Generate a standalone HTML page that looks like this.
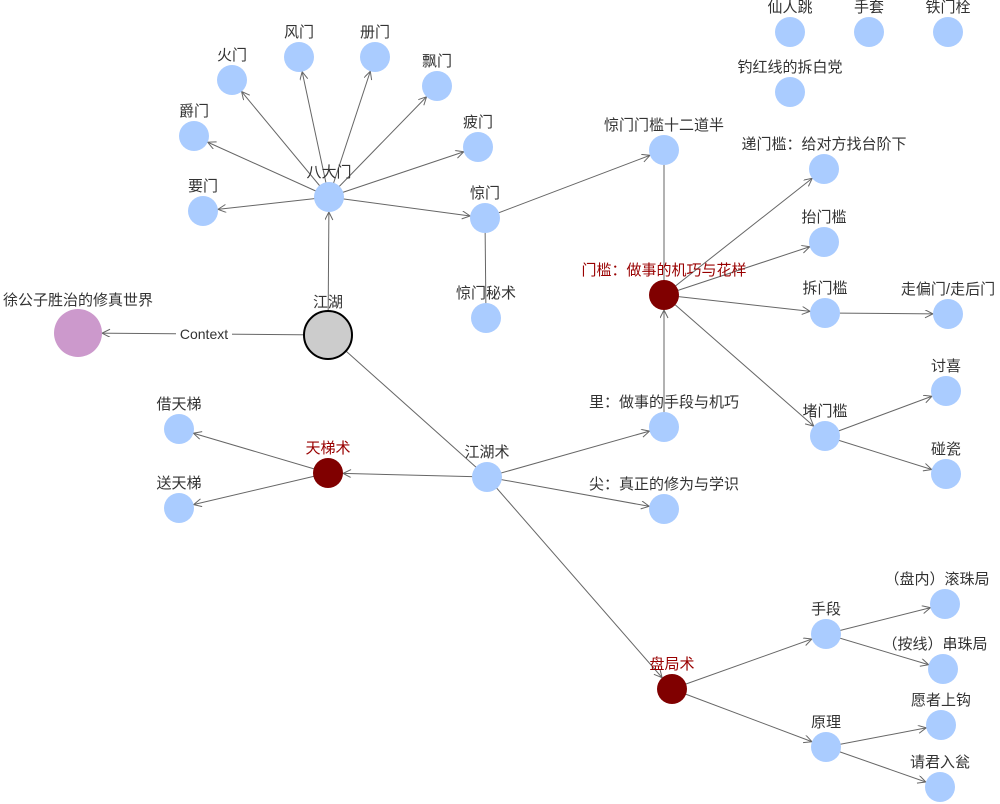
<!DOCTYPE html>
<html><head><meta charset="utf-8"><style>
html,body{margin:0;padding:0;background:#fff;}
svg{display:block;font-family:"Liberation Sans","Noto Sans CJK SC",sans-serif;font-size:15px;}
</style></head><body>
<svg width="1000" height="804" viewBox="0 0 1000 804" xmlns="http://www.w3.org/2000/svg">
<defs>
<marker id="a" markerUnits="userSpaceOnUse" markerWidth="40" markerHeight="12" refX="24" refY="4" orient="auto" viewBox="0 0 40 12">
<path d="M1,0 L9,4 L1,8" fill="none" stroke="#666" stroke-width="1"/>
</marker>
<marker id="b" markerUnits="userSpaceOnUse" markerWidth="40" markerHeight="12" refX="33" refY="4" orient="auto" viewBox="0 0 40 12">
<path d="M1,0 L9,4 L1,8" fill="none" stroke="#666" stroke-width="1"/>
</marker>
</defs>
<g stroke="#666" stroke-width="1" fill="none">
<line x1="328" y1="335" x2="78" y2="333" marker-end="url(#b)"/>
<line x1="328" y1="335" x2="329" y2="197" marker-end="url(#a)"/>
<line x1="329" y1="197" x2="232" y2="80" marker-end="url(#a)"/>
<line x1="329" y1="197" x2="299" y2="57" marker-end="url(#a)"/>
<line x1="329" y1="197" x2="375" y2="57" marker-end="url(#a)"/>
<line x1="329" y1="197" x2="437" y2="86" marker-end="url(#a)"/>
<line x1="329" y1="197" x2="194" y2="136" marker-end="url(#a)"/>
<line x1="329" y1="197" x2="478" y2="147" marker-end="url(#a)"/>
<line x1="329" y1="197" x2="203" y2="211" marker-end="url(#a)"/>
<line x1="329" y1="197" x2="485" y2="218" marker-end="url(#a)"/>
<line x1="485" y1="218" x2="664" y2="150" marker-end="url(#a)"/>
<line x1="485" y1="218" x2="486" y2="318"/>
<line x1="664" y1="150" x2="664" y2="295"/>
<line x1="664" y1="295" x2="824" y2="169" marker-end="url(#a)"/>
<line x1="664" y1="295" x2="824" y2="242" marker-end="url(#a)"/>
<line x1="664" y1="295" x2="825" y2="313" marker-end="url(#a)"/>
<line x1="664" y1="295" x2="825" y2="436" marker-end="url(#a)"/>
<line x1="825" y1="313" x2="948" y2="314" marker-end="url(#a)"/>
<line x1="825" y1="436" x2="946" y2="391" marker-end="url(#a)"/>
<line x1="825" y1="436" x2="946" y2="474" marker-end="url(#a)"/>
<line x1="328" y1="335" x2="487" y2="477"/>
<line x1="487" y1="477" x2="328" y2="473" marker-end="url(#a)"/>
<line x1="328" y1="473" x2="179" y2="429" marker-end="url(#a)"/>
<line x1="328" y1="473" x2="179" y2="508" marker-end="url(#a)"/>
<line x1="487" y1="477" x2="664" y2="427" marker-end="url(#a)"/>
<line x1="487" y1="477" x2="664" y2="509" marker-end="url(#a)"/>
<line x1="487" y1="477" x2="672" y2="689" marker-end="url(#a)"/>
<line x1="664" y1="427" x2="664" y2="295" marker-end="url(#a)"/>
<line x1="672" y1="689" x2="826" y2="634" marker-end="url(#a)"/>
<line x1="672" y1="689" x2="826" y2="747" marker-end="url(#a)"/>
<line x1="826" y1="634" x2="945" y2="604" marker-end="url(#a)"/>
<line x1="826" y1="634" x2="943" y2="669" marker-end="url(#a)"/>
<line x1="826" y1="747" x2="941" y2="725" marker-end="url(#a)"/>
<line x1="826" y1="747" x2="940" y2="787" marker-end="url(#a)"/>
</g>
<g fill="#aaccff">
<circle cx="790" cy="32" r="15"/><circle cx="869" cy="32" r="15"/><circle cx="948" cy="32" r="15"/><circle cx="790" cy="92" r="15"/>
<circle cx="232" cy="80" r="15"/><circle cx="299" cy="57" r="15"/><circle cx="375" cy="57" r="15"/><circle cx="437" cy="86" r="15"/>
<circle cx="194" cy="136" r="15"/><circle cx="478" cy="147" r="15"/><circle cx="203" cy="211" r="15"/><circle cx="329" cy="197" r="15"/>
<circle cx="485" cy="218" r="15"/><circle cx="664" cy="150" r="15"/><circle cx="486" cy="318" r="15"/>
<circle cx="824" cy="169" r="15"/><circle cx="824" cy="242" r="15"/><circle cx="825" cy="313" r="15"/><circle cx="948" cy="314" r="15"/>
<circle cx="825" cy="436" r="15"/><circle cx="946" cy="391" r="15"/><circle cx="946" cy="474" r="15"/>
<circle cx="179" cy="429" r="15"/><circle cx="179" cy="508" r="15"/><circle cx="487" cy="477" r="15"/>
<circle cx="664" cy="427" r="15"/><circle cx="664" cy="509" r="15"/>
<circle cx="826" cy="634" r="15"/><circle cx="945" cy="604" r="15"/><circle cx="943" cy="669" r="15"/>
<circle cx="826" cy="747" r="15"/><circle cx="941" cy="725" r="15"/><circle cx="940" cy="787" r="15"/>
</g>
<g fill="#800000">
<circle cx="664" cy="295" r="15"/><circle cx="328" cy="473" r="15"/><circle cx="672" cy="689" r="15"/>
</g>
<circle cx="78" cy="333" r="24" fill="#cc99cc"/>
<circle cx="328" cy="335" r="24" fill="#cccccc" stroke="#000" stroke-width="2"/>
<rect x="176" y="325" width="56" height="18" fill="#fff"/>
<g fill="#333" text-anchor="middle">
<text x="204" y="339" font-size="14">Context</text>
<text x="790" y="12">仙人跳</text><text x="869" y="12">手套</text><text x="948" y="12">铁门栓</text><text x="790" y="72">钓红线的拆白党</text>
<text x="232" y="60">火门</text><text x="299" y="37">风门</text><text x="375" y="37">册门</text><text x="437" y="66">飘门</text>
<text x="194" y="116">爵门</text><text x="478" y="127">疲门</text><text x="203" y="191">要门</text><text x="329" y="177">八大门</text>
<text x="485" y="198">惊门</text><text x="664" y="130">惊门门槛十二道半</text><text x="486" y="298">惊门秘术</text>
<text x="824" y="149">递门槛：给对方找台阶下</text><text x="824" y="222">抬门槛</text><text x="825" y="293">拆门槛</text><text x="948" y="294">走偏门/走后门</text>
<text x="825" y="416">堵门槛</text><text x="946" y="371">讨喜</text><text x="946" y="454">碰瓷</text>
<text x="179" y="409">借天梯</text><text x="179" y="488">送天梯</text><text x="487" y="457">江湖术</text>
<text x="664" y="407">里：做事的手段与机巧</text><text x="664" y="489">尖：真正的修为与学识</text>
<text x="826" y="614">手段</text><text x="937" y="584">（盘内）滚珠局</text><text x="935" y="649">（按线）串珠局</text>
<text x="826" y="727">原理</text><text x="941" y="705">愿者上钩</text><text x="940" y="767">请君入瓮</text>
<text x="78" y="305">徐公子胜治的修真世界</text><text x="328" y="307">江湖</text>
</g>
<g fill="#990000" text-anchor="middle">
<text x="664" y="275">门槛：做事的机巧与花样</text><text x="328" y="453">天梯术</text><text x="672" y="669">盘局术</text>
</g>
</svg>
</body></html>
